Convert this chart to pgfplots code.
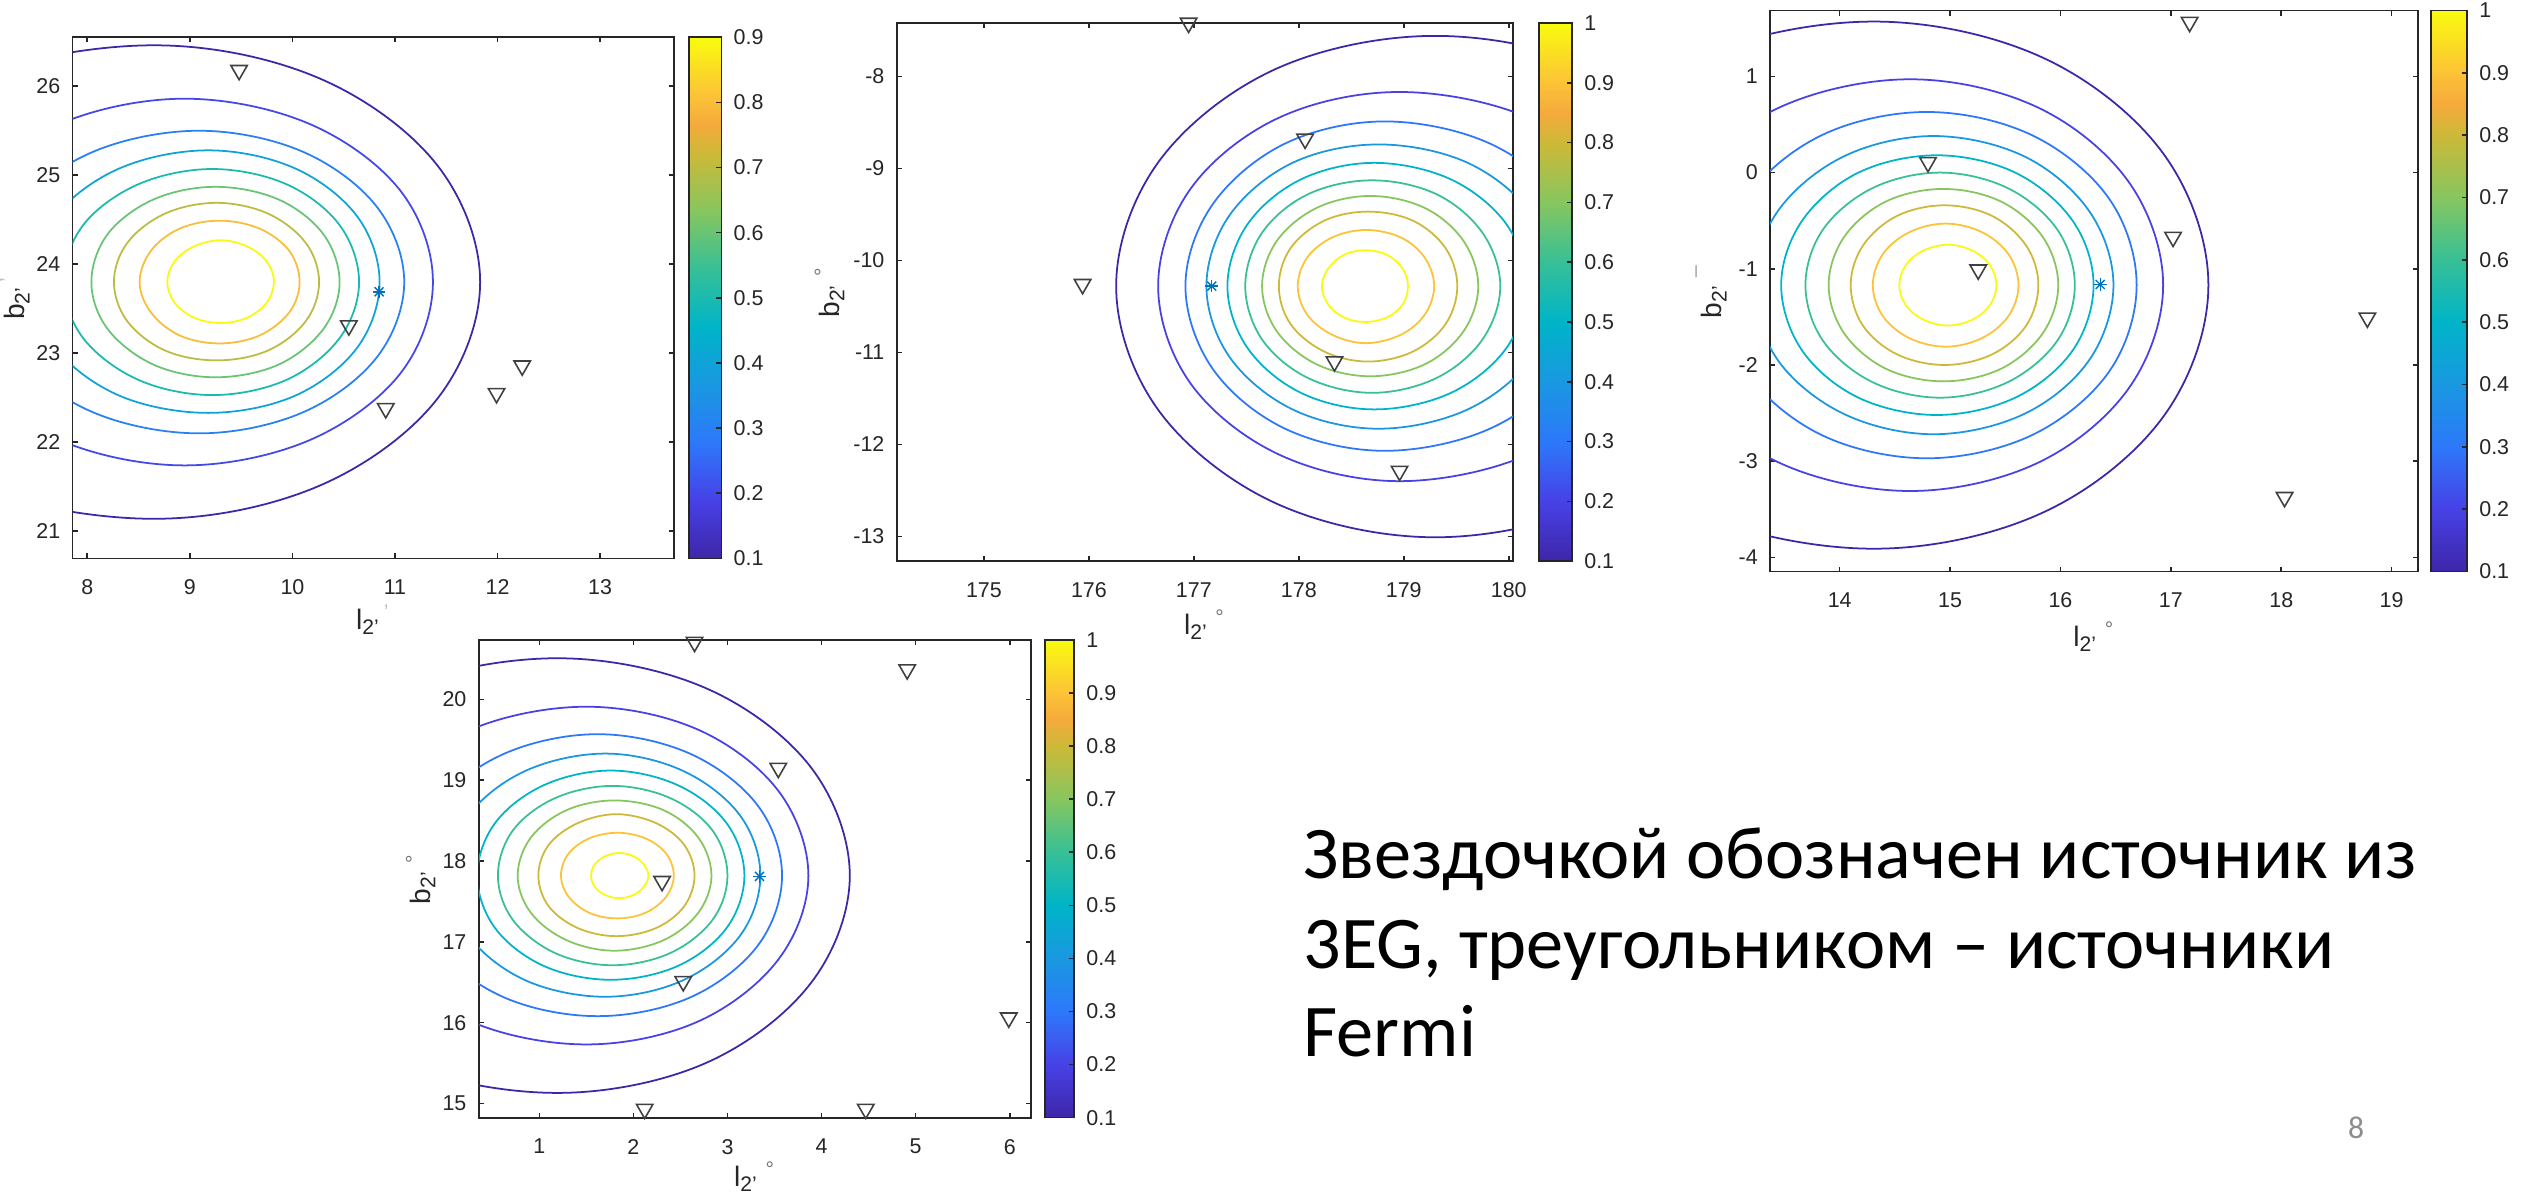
\documentclass[border=0pt]{standalone}
\usepackage{fontspec}
\setmainfont{Liberation Sans}
\newfontfamily\slidefont{Carlito}
\usepackage{pgfplots}
\pgfplotsset{compat=1.18}

\definecolor{axgray}{rgb}{0.15,0.15,0.15}
\definecolor{mblue}{rgb}{0,0.447,0.741}
% contour colours, levels 0.1 ... 1.0 on a 0.1--1 colour range
\definecolor{c1}{RGB}{62,38,168}
\definecolor{c2}{RGB}{71,65,230}
\definecolor{c3}{RGB}{45,120,250}
\definecolor{c4}{RGB}{25,152,225}
\definecolor{c5}{RGB}{0,180,200}
\definecolor{c6}{RGB}{55,192,150}
\definecolor{c7}{RGB}{135,198,95}
\definecolor{c8}{RGB}{205,185,55}
\definecolor{c9}{RGB}{252,195,55}
\definecolor{c10}{RGB}{249,251,14}
% first panel, levels 0.1 ... 0.9 on a 0.1--0.9 range
\definecolor{d1}{RGB}{62,38,168}
\definecolor{d2}{RGB}{68,72,233}
\definecolor{d3}{RGB}{40,128,244}
\definecolor{d4}{RGB}{16,163,216}
\definecolor{d5}{RGB}{27,186,175}
\definecolor{d6}{RGB}{105,196,116}
\definecolor{d7}{RGB}{187,188,65}
\definecolor{d8}{RGB}{250,189,56}
\definecolor{d9}{RGB}{249,251,14}

\pgfplotsset{
  /pgf/number format/assume math mode=true,
  colormap={parula}{
    rgb255(0pt)=(62,38,168);
    rgb255(111pt)=(71,65,230);
    rgb255(222pt)=(45,120,250);
    rgb255(333pt)=(25,152,225);
    rgb255(444pt)=(0,180,200);
    rgb255(556pt)=(55,192,150);
    rgb255(667pt)=(135,198,95);
    rgb255(778pt)=(205,185,55);
    rgb255(833pt)=(245,170,60);
    rgb255(889pt)=(252,195,55);
    rgb255(1000pt)=(249,251,14)
  },
  every tick label/.append style={font=\fontsize{6.1}{6.5}\selectfont, text=axgray},
  mat/.style={
    scale only axis,
    axis line style={draw=axgray, line width=0.45pt},
    tick align=inside,
    major tick length=0.05cm,
    tick style={axgray, line width=0.45pt},
    xticklabel style={yshift=-0.09cm},
    label style={font=\fontsize{8}{9}\selectfont, text=axgray},
    colormap name=parula,
    colorbar,
  },
  cbar/.style={
    scale only axis,
    at={(parent axis.north east)}, anchor=north west,
    axis line style={draw=axgray, line width=0.45pt},
    tick align=inside,
    major tick length=0.05cm,
    tick style={axgray, line width=0.45pt},
    ytick pos=right, yticklabel pos=right,
  },
  cont/.style={smooth cycle, tension=0.6, line width=0.5pt},
  tri/.style={only marks, mark=triangle, mark size=2.7pt, black!75,
    mark options={rotate=180, line width=0.45pt}},
  star/.style={only marks, mark size=1.8pt, mblue, mark options={line width=0.4pt}},
}

\begin{document}
\begin{tikzpicture}
\path[use as bounding box, fill=white] (0,0) rectangle (25.26,11.94);

% ---------- panel 1
\begin{axis}[mat,
  at={(0.727cm,6.356cm)}, anchor=south west,
  width=6.011cm, height=5.211cm,
  xmin=7.858, xmax=13.718, ymin=20.695, ymax=26.55,
  xtick={8,...,13}, ytick={21,...,26},
  point meta min=0.1, point meta max=0.9,
  colorbar style={cbar, xshift=-0.15cm, width=0.325cm, height=5.211cm,
    ytick={0.1,0.2,0.3,0.4,0.5,0.6,0.7,0.8,0.9}},
  xlabel={l\textsubscript{2'}\textsuperscript{\,\textcolor{black!25}{'}}},
  ylabel={b\textsubscript{2'}\textsuperscript{\,\textcolor{black!25}{'}}},
  xlabel style={at={(axis description cs:0.5,-0.066)}, anchor=north},
  ylabel style={at={(axis description cs:-0.051,0.5)}, anchor=south},
]
\addplot[cont, d1] coordinates {(11.83,23.80) (11.40,25.13) (10.24,26.10) (8.65,26.46) (6.90,26.10) (5.62,25.13) (5.15,23.80) (5.62,22.47) (6.90,21.50) (8.65,21.14) (10.24,21.50) (11.40,22.47)};
\addplot[cont, d2] coordinates {(11.37,23.80) (11.05,24.83) (10.16,25.58) (8.95,25.86) (7.74,25.58) (6.85,24.83) (6.53,23.80) (6.85,22.77) (7.74,22.02) (8.95,21.74) (10.16,22.02) (11.05,22.77)};
\addplot[cont, d3] coordinates {(11.09,23.80) (10.82,24.65) (10.09,25.27) (9.09,25.50) (8.07,25.27) (7.32,24.65) (7.04,23.80) (7.32,22.95) (8.07,22.33) (9.09,22.10) (10.09,22.33) (10.82,22.95)};
\addplot[cont, d4] coordinates {(10.85,23.80) (10.63,24.54) (10.02,25.08) (9.18,25.28) (8.32,25.08) (7.69,24.54) (7.46,23.80) (7.69,23.06) (8.32,22.52) (9.18,22.33) (10.02,22.52) (10.63,23.06)};
\addplot[cont, d5] coordinates {(10.65,23.80) (10.46,24.44) (9.94,24.90) (9.22,25.07) (8.50,24.90) (7.96,24.44) (7.77,23.80) (7.96,23.17) (8.50,22.70) (9.22,22.53) (9.94,22.70) (10.46,23.17)};
\addplot[cont, d6] coordinates {(10.46,23.80) (10.30,24.34) (9.86,24.73) (9.25,24.87) (8.65,24.73) (8.20,24.34) (8.04,23.80) (8.20,23.27) (8.65,22.87) (9.25,22.73) (9.86,22.87) (10.30,23.27)};
\addplot[cont, d7] coordinates {(10.26,23.80) (10.13,24.24) (9.76,24.57) (9.26,24.69) (8.76,24.57) (8.39,24.24) (8.26,23.80) (8.39,23.36) (8.76,23.03) (9.26,22.92) (9.76,23.03) (10.13,23.36)};
\addplot[cont, d8] coordinates {(10.07,23.80) (9.97,24.15) (9.68,24.40) (9.29,24.49) (8.90,24.40) (8.62,24.15) (8.51,23.80) (8.62,23.46) (8.90,23.20) (9.29,23.11) (9.68,23.20) (9.97,23.46)};
\addplot[cont, d9] coordinates {(9.82,23.80) (9.75,24.03) (9.56,24.20) (9.30,24.27) (9.04,24.20) (8.85,24.03) (8.78,23.80) (8.85,23.57) (9.04,23.40) (9.30,23.34) (9.56,23.40) (9.75,23.57)};
\addplot[tri] coordinates {(9.48,26.18) (10.55,23.31) (10.91,22.38) (11.99,22.55) (12.24,22.86)};
\addplot[star, mark=+] coordinates {(10.845,23.69)};
\addplot[star, mark=x] coordinates {(10.845,23.69)};
\end{axis}

% ---------- panel 2
\begin{axis}[mat,
  at={(8.968cm,6.328cm)}, anchor=south west,
  width=6.161cm, height=5.382cm,
  xmin=174.17, xmax=180.04, ymin=-13.27, ymax=-7.42,
  xtick={175,...,180}, ytick={-13,-12,...,-8},
  point meta min=0.1, point meta max=1,
  colorbar style={cbar, xshift=-0.04cm, width=0.33cm, height=5.382cm,
    ytick={0.1,0.2,0.3,0.4,0.5,0.6,0.7,0.8,0.9,1}},
  xlabel={l\textsubscript{2'}\textsuperscript{\,\,\textcolor{black!55}{°}}},
  ylabel={b\textsubscript{2'}\textsuperscript{\,\,\textcolor{black!55}{°}}},
  xlabel style={at={(axis description cs:0.5,-0.067)}, anchor=north},
  ylabel style={at={(axis description cs:-0.065,0.5)}, anchor=south},
]
\addplot[cont, c1] coordinates {(182.40,-10.28) (181.99,-8.92) (180.85,-7.92) (179.30,-7.56) (177.78,-7.92) (176.67,-8.92) (176.26,-10.28) (176.67,-11.64) (177.78,-12.64) (179.30,-13.01) (180.85,-12.64) (181.99,-11.64)};
\addplot[cont, c2] coordinates {(181.41,-10.28) (181.08,-9.22) (180.19,-8.45) (178.96,-8.17) (177.81,-8.45) (176.97,-9.22) (176.66,-10.28) (176.97,-11.34) (177.81,-12.11) (178.96,-12.40) (180.19,-12.11) (181.08,-11.34)};
\addplot[cont, c3] coordinates {(180.82,-10.28) (180.55,-9.39) (179.82,-8.73) (178.82,-8.49) (177.87,-8.73) (177.18,-9.39) (176.92,-10.28) (177.18,-11.18) (177.87,-11.83) (178.82,-12.07) (179.82,-11.83) (180.55,-11.18)};
\addplot[cont, c4] coordinates {(180.46,-10.28) (180.23,-9.51) (179.61,-8.94) (178.76,-8.74) (177.94,-8.94) (177.34,-9.51) (177.12,-10.28) (177.34,-11.05) (177.94,-11.62) (178.76,-11.83) (179.61,-11.62) (180.23,-11.05)};
\addplot[cont, c5] coordinates {(180.17,-10.28) (179.98,-9.61) (179.45,-9.12) (178.72,-8.94) (178.02,-9.12) (177.51,-9.61) (177.32,-10.28) (177.51,-10.95) (178.02,-11.44) (178.72,-11.62) (179.45,-11.44) (179.98,-10.95)};
\addplot[cont, c6] coordinates {(179.92,-10.28) (179.75,-9.70) (179.31,-9.28) (178.70,-9.13) (178.09,-9.28) (177.65,-9.70) (177.49,-10.28) (177.65,-10.86) (178.09,-11.28) (178.70,-11.44) (179.31,-11.28) (179.75,-10.86)};
\addplot[cont, c7] coordinates {(179.71,-10.28) (179.57,-9.79) (179.20,-9.43) (178.68,-9.30) (178.17,-9.43) (177.79,-9.79) (177.65,-10.28) (177.79,-10.77) (178.17,-11.13) (178.68,-11.26) (179.20,-11.13) (179.57,-10.77)};
\addplot[cont, c8] coordinates {(179.51,-10.28) (179.40,-9.87) (179.09,-9.57) (178.66,-9.47) (178.24,-9.57) (177.92,-9.87) (177.81,-10.28) (177.92,-10.69) (178.24,-10.99) (178.66,-11.10) (179.09,-10.99) (179.40,-10.69)};
\addplot[cont, c9] coordinates {(179.29,-10.28) (179.20,-9.97) (178.97,-9.75) (178.64,-9.67) (178.32,-9.75) (178.08,-9.97) (177.99,-10.28) (178.08,-10.59) (178.32,-10.81) (178.64,-10.90) (178.97,-10.81) (179.20,-10.59)};
\addplot[cont, c10] coordinates {(179.04,-10.28) (178.99,-10.09) (178.84,-9.94) (178.63,-9.89) (178.43,-9.94) (178.28,-10.09) (178.22,-10.28) (178.28,-10.48) (178.43,-10.62) (178.63,-10.67) (178.84,-10.62) (178.99,-10.48)};
\addplot[tri] coordinates {(176.95,-7.42) (175.94,-10.26) (178.06,-8.68) (178.34,-11.10) (178.96,-12.29)};
\addplot[star, mark=+] coordinates {(177.17,-10.28)};
\addplot[star, mark=x] coordinates {(177.17,-10.28)};
\end{axis}

% ---------- panel 3
\begin{axis}[mat,
  at={(17.701cm,6.224cm)}, anchor=south west,
  width=6.48cm, height=5.611cm,
  xmin=13.37, xmax=19.24, ymin=-4.148, ymax=1.685,
  xtick={14,...,19}, ytick={-4,-3,...,1},
  point meta min=0.1, point meta max=1,
  colorbar style={cbar, xshift=-0.17cm, width=0.358cm, height=5.611cm,
    ytick={0.1,0.2,0.3,0.4,0.5,0.6,0.7,0.8,0.9,1}},
  xlabel={l\textsubscript{2'}\textsuperscript{\,\,\textcolor{black!55}{°}}},
  ylabel={b\textsubscript{2'}\textsuperscript{\,\,\textcolor{black!55}{¯}}},
  xlabel style={at={(axis description cs:0.5,-0.068)}, anchor=north},
  ylabel style={at={(axis description cs:-0.048,0.5)}, anchor=south},
]
\addplot[cont, c1] coordinates {(17.34,-1.17) (16.93,0.20) (15.83,1.20) (14.31,1.57) (12.71,1.20) (11.54,0.20) (11.11,-1.17) (11.54,-2.54) (12.71,-3.54) (14.31,-3.91) (15.83,-3.54) (16.93,-2.54)};
\addplot[cont, c2] coordinates {(16.93,-1.17) (16.62,-0.10) (15.79,0.68) (14.64,0.97) (13.46,0.68) (12.60,-0.10) (12.28,-1.17) (12.60,-2.24) (13.46,-3.02) (14.64,-3.31) (15.79,-3.02) (16.62,-2.24)};
\addplot[cont, c3] coordinates {(16.69,-1.17) (16.44,-0.27) (15.74,0.39) (14.79,0.63) (13.84,0.39) (13.15,-0.27) (12.89,-1.17) (13.15,-2.07) (13.84,-2.73) (14.79,-2.97) (15.74,-2.73) (16.44,-2.07)};
\addplot[cont, c4] coordinates {(16.48,-1.17) (16.26,-0.40) (15.67,0.17) (14.85,0.38) (14.04,0.17) (13.44,-0.40) (13.22,-1.17) (13.44,-1.95) (14.04,-2.51) (14.85,-2.72) (15.67,-2.51) (16.26,-1.95)};
\addplot[cont, c5] coordinates {(16.30,-1.17) (16.11,-0.50) (15.59,0.00) (14.88,0.18) (14.17,0.00) (13.66,-0.50) (13.47,-1.17) (13.66,-1.85) (14.17,-2.34) (14.88,-2.52) (15.59,-2.34) (16.11,-1.85)};
\addplot[cont, c6] coordinates {(16.13,-1.17) (15.97,-0.59) (15.52,-0.16) (14.91,0.00) (14.30,-0.16) (13.85,-0.59) (13.69,-1.17) (13.85,-1.75) (14.30,-2.18) (14.91,-2.34) (15.52,-2.18) (15.97,-1.75)};
\addplot[cont, c7] coordinates {(15.98,-1.17) (15.84,-0.67) (15.46,-0.30) (14.94,-0.17) (14.42,-0.30) (14.04,-0.67) (13.90,-1.17) (14.04,-1.67) (14.42,-2.04) (14.94,-2.17) (15.46,-2.04) (15.84,-1.67)};
\addplot[cont, c8] coordinates {(15.80,-1.17) (15.69,-0.76) (15.38,-0.45) (14.95,-0.34) (14.52,-0.45) (14.21,-0.76) (14.10,-1.17) (14.21,-1.59) (14.52,-1.89) (14.95,-2.00) (15.38,-1.89) (15.69,-1.59)};
\addplot[cont, c9] coordinates {(15.62,-1.17) (15.53,-0.85) (15.29,-0.62) (14.96,-0.53) (14.63,-0.62) (14.39,-0.85) (14.30,-1.17) (14.39,-1.49) (14.63,-1.72) (14.96,-1.81) (15.29,-1.72) (15.53,-1.49)};
\addplot[cont, c10] coordinates {(15.42,-1.17) (15.36,-0.96) (15.20,-0.81) (14.98,-0.75) (14.76,-0.81) (14.60,-0.96) (14.54,-1.17) (14.60,-1.38) (14.76,-1.53) (14.98,-1.59) (15.20,-1.53) (15.36,-1.38)};
\addplot[tri] coordinates {(17.17,1.564) (14.80,0.107) (15.255,-1.01) (17.02,-0.67) (18.78,-1.51) (18.03,-3.375)};
\addplot[star, mark=+] coordinates {(16.36,-1.163)};
\addplot[star, mark=x] coordinates {(16.36,-1.163)};
\end{axis}

% ---------- panel 4
\begin{axis}[mat,
  at={(4.788cm,0.763cm)}, anchor=south west,
  width=5.522cm, height=4.778cm,
  xmin=0.357, xmax=6.226, ymin=14.823, ymax=20.737,
  xtick={1,...,6}, ytick={15,...,20},
  point meta min=0.1, point meta max=1,
  colorbar style={cbar, xshift=-0.16cm, width=0.29cm, height=4.778cm,
    ytick={0.1,0.2,0.3,0.4,0.5,0.6,0.7,0.8,0.9,1}},
  xlabel={l\textsubscript{2'}\textsuperscript{\,\,\textcolor{black!55}{°}}},
  ylabel={b\textsubscript{2'}\textsuperscript{\,\,\textcolor{black!55}{°}}},
  xlabel style={at={(axis description cs:0.5,-0.067)}, anchor=north},
  ylabel style={at={(axis description cs:-0.056,0.5)}, anchor=south},
]
\addplot[cont, c1] coordinates {(4.30,17.82) (3.88,19.17) (2.75,20.15) (1.19,20.51) (-0.45,20.15) (-1.64,19.17) (-2.08,17.82) (-1.64,16.48) (-0.45,15.49) (1.19,15.13) (2.75,15.49) (3.88,16.48)};
\addplot[cont, c2] coordinates {(3.86,17.82) (3.54,18.87) (2.68,19.63) (1.50,19.91) (0.28,19.63) (-0.61,18.87) (-0.94,17.82) (-0.61,16.78) (0.28,16.01) (1.50,15.73) (2.68,16.01) (3.54,16.78)};
\addplot[cont, c3] coordinates {(3.58,17.82) (3.32,18.69) (2.60,19.33) (1.62,19.57) (0.63,19.33) (-0.10,18.69) (-0.36,17.82) (-0.10,16.95) (0.63,16.31) (1.62,16.08) (2.60,16.31) (3.32,16.95)};
\addplot[cont, c4] coordinates {(3.35,17.82) (3.13,18.57) (2.52,19.12) (1.70,19.33) (0.86,19.12) (0.25,18.57) (0.02,17.82) (0.25,17.07) (0.86,16.52) (1.70,16.32) (2.52,16.52) (3.13,17.07)};
\addplot[cont, c5] coordinates {(3.18,17.82) (2.99,18.47) (2.47,18.94) (1.76,19.12) (1.05,18.94) (0.53,18.47) (0.34,17.82) (0.53,17.17) (1.05,16.70) (1.76,16.53) (2.47,16.70) (2.99,17.17)};
\addplot[cont, c6] coordinates {(3.00,17.82) (2.84,18.38) (2.39,18.78) (1.78,18.93) (1.17,18.78) (0.72,18.38) (0.56,17.82) (0.72,17.27) (1.17,16.86) (1.78,16.71) (2.39,16.86) (2.84,17.27)};
\addplot[cont, c7] coordinates {(2.83,17.82) (2.69,18.29) (2.32,18.63) (1.80,18.75) (1.29,18.63) (0.91,18.29) (0.77,17.82) (0.91,17.36) (1.29,17.02) (1.80,16.89) (2.32,17.02) (2.69,17.36)};
\addplot[cont, c8] coordinates {(2.65,17.82) (2.54,18.20) (2.24,18.47) (1.82,18.58) (1.41,18.47) (1.10,18.20) (0.99,17.82) (1.10,17.44) (1.41,17.17) (1.82,17.07) (2.24,17.17) (2.54,17.44)};
\addplot[cont, c9] coordinates {(2.43,17.82) (2.35,18.09) (2.13,18.28) (1.83,18.35) (1.53,18.28) (1.31,18.09) (1.23,17.82) (1.31,17.56) (1.53,17.36) (1.83,17.29) (2.13,17.36) (2.35,17.56)};
\addplot[cont, c10] coordinates {(2.16,17.82) (2.11,17.96) (2.00,18.06) (1.85,18.10) (1.70,18.06) (1.59,17.96) (1.55,17.82) (1.59,17.68) (1.70,17.58) (1.85,17.54) (2.00,17.58) (2.11,17.68)};
\addplot[tri] coordinates {(2.65,20.71) (4.91,20.37) (3.54,19.15) (2.305,17.75) (2.53,16.51) (5.99,16.06) (2.12,14.93) (4.47,14.93)};
\addplot[star, mark=+] coordinates {(3.34,17.81)};
\addplot[star, mark=x] coordinates {(3.34,17.81)};
\end{axis}

% ---------- slide text
\begin{scope}[every node/.style={anchor=base west, inner sep=0pt,
    font=\slidefont\fontsize{21.15}{26}\selectfont}]
\node at (13.03,3.157) {Звездочкой обозначен источник из};
\node at (13.03,2.257) {3EG, треугольником – источники};
\node at (13.03,1.373) {Fermi};
\end{scope}
\node[anchor=base, inner sep=0pt, text=black!45,
  font=\slidefont\fontsize{9}{10}\selectfont] at (23.56,0.56) {8};
\end{tikzpicture}
\end{document}
